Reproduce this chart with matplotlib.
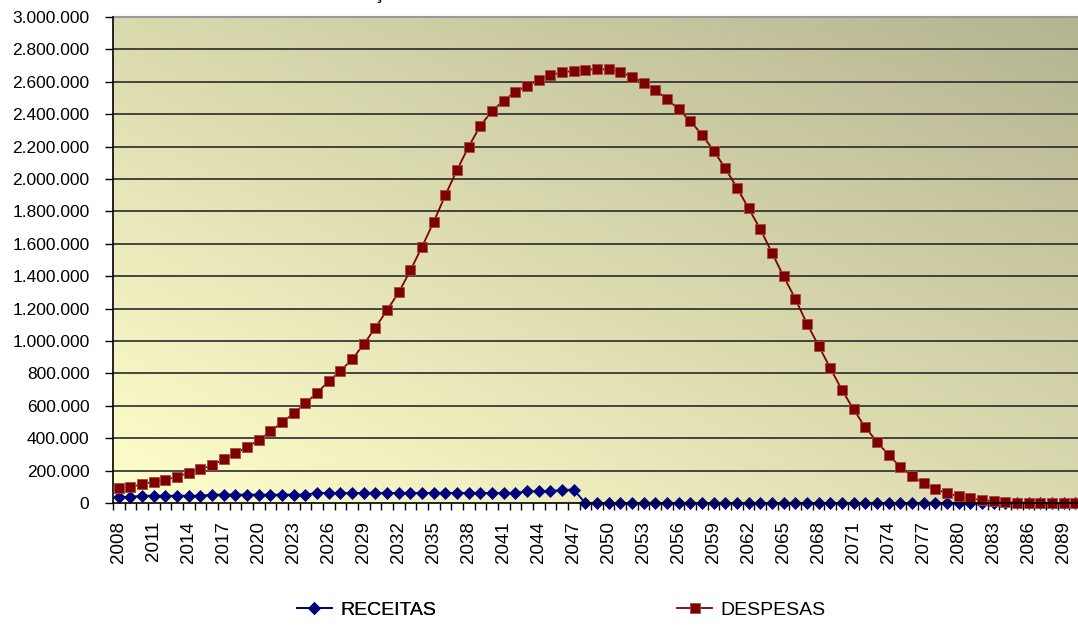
import matplotlib
matplotlib.use("Agg")
import matplotlib.pyplot as plt
import numpy as np
from matplotlib.ticker import FuncFormatter, FixedLocator
from matplotlib.colors import LinearSegmentedColormap

plt.rcParams['font.family'] = ['Liberation Sans', 'DejaVu Sans']

years = list(range(2008, 2091))

receitas = [38000, 38000, 45000, 45000, 45000, 45000, 45000, 45000, 52000, 52000,
            52000, 52000, 52000, 52000, 52000, 52000, 52000, 62000, 62000, 62000,
            62000, 62000, 62000, 62000, 62000, 62000, 62000, 62000, 62000, 62000,
            62000, 62000, 62000, 62000, 62000, 72000, 72000, 72000, 82000, 82000,
            0, 0, 0, 0, 0, 0, 0, 0, 0, 0,
            0, 0, 0, 0, 0, 0, 0, 0, 0, 0,
            0, 0, 0, 0, 0, 0, 0, 0, 0, 0,
            0, 0, 0, 0, 0, 0, 0, 0, 0, 0,
            0, 0, 0]

despesas = [90000, 100000, 115000, 132000, 142000, 162000, 187000, 208000, 233000, 270000,
            307000, 344000, 389000, 442000, 498000, 554000, 615000, 681000, 751000, 815000,
            887000, 980000, 1082000, 1191000, 1300000, 1436000, 1582000, 1736000, 1901000, 2056000,
            2200000, 2329000, 2420000, 2483000, 2539000, 2576000, 2611000, 2640000, 2659000, 2667000,
            2675000, 2677000, 2677000, 2659000, 2632000, 2595000, 2549000, 2494000, 2430000, 2358000,
            2273000, 2175000, 2066000, 1946000, 1819000, 1691000, 1545000, 1399000, 1261000, 1107000,
            971000, 833000, 698000, 578000, 467000, 379000, 296000, 224000, 167000, 121000,
            86000, 60000, 41000, 28000, 18000, 11000, 6000, 3000, 2000, 1000,
            1000, 0, 0]

yticks = list(range(0, 3000001, 200000))
xlabel_years = list(range(2008, 2091, 3))

W, H = 1078, 626
fig = plt.figure(figsize=(W / 100, H / 100), dpi=100)
ax = fig.add_axes([113 / W, (H - 503) / H, (1081 - 113) / W, (503 - 17) / H])

# gradient background (light bottom-left -> darker top-right)
cmap = LinearSegmentedColormap.from_list('bg', ['#FFFFCC', '#B5B491'])
gx, gy = np.meshgrid(np.linspace(0, 1, 300), np.linspace(0, 1, 300))
grad = (gx + gy) / 2
ax.imshow(grad, cmap=cmap, extent=[0, 1, 0, 1], origin='lower',
          transform=ax.transAxes, aspect='auto', zorder=0, interpolation='bilinear')

for yv in yticks[1:-1]:
    ax.axhline(yv, color='#2a2a2a', lw=1.2, zorder=1)

ax.plot(years, receitas, color='#000080', lw=1.3, marker='D', markersize=6.0,
        markerfacecolor='#000080', markeredgecolor='#000080', markeredgewidth=0.5,
        zorder=3, label='RECEITAS', clip_on=False)
ax.plot(years, despesas, color='#800000', lw=1.3, marker='s', markersize=6.8,
        markerfacecolor='#800000', markeredgecolor='#a04a4a', markeredgewidth=0.6,
        zorder=4, label='DESPESAS', clip_on=False)

ax.set_xlim(2007.5, 2090.5)
ax.set_ylim(0, 3000000)

ax.yaxis.set_major_locator(FixedLocator(yticks))
ax.yaxis.set_major_formatter(FuncFormatter(lambda v, p: f"{int(v):,}".replace(",", ".")))
ax.tick_params(axis='y', which='major', direction='out', length=6, width=1,
               pad=11, labelsize=12.5, colors='black')

ax.xaxis.set_major_locator(FixedLocator(xlabel_years))
ax.set_xticklabels([str(y) for y in xlabel_years], rotation=90)
ax.xaxis.set_minor_locator(FixedLocator([y + 0.5 for y in range(2007, 2091)]))
ax.tick_params(axis='x', which='major', length=0, pad=13, labelsize=13.5)
ax.tick_params(axis='x', which='minor', direction='out', length=5, width=1, color='black')

for s in ['left', 'bottom']:
    ax.spines[s].set_color('black')
    ax.spines[s].set_linewidth(1.2)
    ax.spines[s].set_zorder(5)
ax.spines['right'].set_visible(False)
ax.spines['top'].set_color('#9a9a9a')
ax.spines['top'].set_linewidth(1.5)

# partially visible title (cropped at top of image)
fig.text(378 / W, 1.0 + 0.5 / H, 'ç', ha='center', va='baseline', fontsize=14)

handles, labels = ax.get_legend_handles_labels()
fy = (H - 610) / H
leg1 = fig.legend([handles[0]], [labels[0]], loc='center left',
                  bbox_to_anchor=(297 / W, fy), frameon=False, fontsize=14,
                  borderpad=0, borderaxespad=0, handlelength=1.8, handletextpad=0.45)
fig.add_artist(leg1)
leg2 = fig.legend([handles[1]], [labels[1]], loc='center left',
                  bbox_to_anchor=(677 / W, fy), frameon=False, fontsize=14,
                  borderpad=0, borderaxespad=0, handlelength=1.8, handletextpad=0.45)

fig.savefig('out.png', dpi=100)
